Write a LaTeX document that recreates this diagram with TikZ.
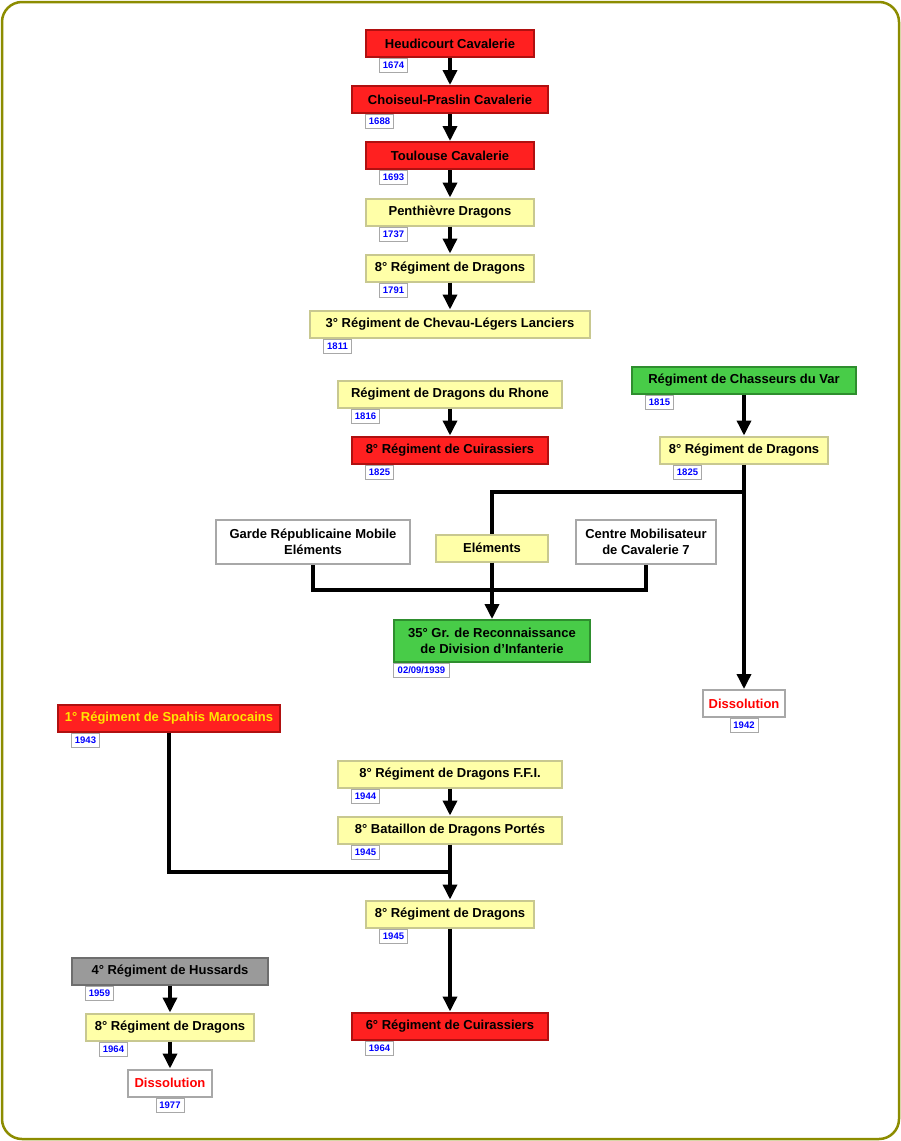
\documentclass[tikz,border=0pt]{standalone}
\usepackage{fontspec}
\setmainfont{Liberation Sans}
\usepackage{xcolor}
\usetikzlibrary{arrows.meta}
\definecolor{redfill}{HTML}{FF2020}
\definecolor{redline}{HTML}{B01010}
\definecolor{yelfill}{HTML}{FFFFA8}
\definecolor{yelline}{HTML}{C8C890}
\definecolor{grnfill}{HTML}{48CC48}
\definecolor{grnline}{HTML}{2E8E2E}
\definecolor{gryfill}{HTML}{9A9A9A}
\definecolor{gryline}{HTML}{6E6E6E}
\definecolor{whtline}{HTML}{A8A8A8}
\definecolor{frame}{HTML}{8C8C00}
\begin{document}
\begin{tikzpicture}[x=1pt,y=-1pt,
  unit/.style={draw,line width=2pt,minimum height=27,inner sep=0pt,align=center,
    font=\fontsize{13}{16}\selectfont\bfseries},
  cav/.style={unit,fill=redfill,draw=redline},
  drag/.style={unit,fill=yelfill,draw=yelline},
  chas/.style={unit,fill=grnfill,draw=grnline},
  huss/.style={unit,fill=gryfill,draw=gryline},
  other/.style={unit,fill=white,draw=whtline},
  year/.style={draw=whtline,fill=white,line width=1pt,minimum width=28,minimum height=14,
    inner sep=0pt,text=blue,font=\fontsize{9.5}{10}\selectfont\bfseries},
  link/.style={line width=3.5pt},
  arr/.style={link,-{Triangle[width=14pt,length=15pt]}}]
\useasboundingbox(0,0)rectangle(901,1141);
\draw[frame,line width=2.5pt,rounded corners=20](2,2)rectangle(899,1139);
\node[cav,minimum width=168](hc)at(450,43.5){Heudicourt Cavalerie};
\node[cav,minimum width=196](cp)at(450,99.5){Choiseul-Praslin Cavalerie};
\node[cav,minimum width=168](tc)at(450,155.5){Toulouse Cavalerie};
\node[drag,minimum width=168](pd)at(450,212){Penthièvre Dragons};
\node[drag,minimum width=168](rd1)at(450,268){8° Régiment de Dragons};
\node[drag,minimum width=280](cl)at(450,324){3° Régiment de Chevau-Légers Lanciers};
\node[drag,minimum width=224](dr)at(450,394){Régiment de Dragons du Rhone};
\node[cav,minimum width=196](rc1)at(450,450){8° Régiment de Cuirassiers};
\node[chas,minimum width=224](cv)at(744,380){Régiment de Chasseurs du Var};
\node[drag,minimum width=168](rd2)at(744,450){8° Régiment de Dragons};
\node[other,minimum width=194,minimum height=44](gm)at(313,542){Garde Républicaine Mobile\\Eléments};
\node[drag,minimum width=112](el)at(492,548){Eléments};
\node[other,minimum width=140,minimum height=44](cm)at(646,542){Centre Mobilisateur\\de Cavalerie 7};
\node[chas,minimum width=196,minimum height=42](gr)at(492,641){35° Gr. de Reconnaissance\\de Division d’Infanterie};
\node[other,minimum width=82,text=red](ds1)at(744,703.5){Dissolution};
\node[cav,minimum width=222,text={rgb,255:red,255;green,230;blue,0}](sm)at(169,718){1° Régiment de Spahis Marocains};
\node[drag,minimum width=224](ffi)at(450,774){8° Régiment de Dragons F.F.I.};
\node[drag,minimum width=224](bdp)at(450,830){8° Bataillon de Dragons Portés};
\node[drag,minimum width=168](rd3)at(450,914){8° Régiment de Dragons};
\node[cav,minimum width=196](rc6)at(450,1026){6° Régiment de Cuirassiers};
\node[huss,minimum width=196](rh)at(170,971){4° Régiment de Hussards};
\node[drag,minimum width=168](rd4)at(170,1027){8° Régiment de Dragons};
\node[other,minimum width=84,text=red](ds2)at(170,1083){Dissolution};
\node[year,anchor=north west]at([xshift=14]hc.south west){1674};
\node[year,anchor=north west]at([xshift=14]cp.south west){1688};
\node[year,anchor=north west]at([xshift=14]tc.south west){1693};
\node[year,anchor=north west]at([xshift=14]pd.south west){1737};
\node[year,anchor=north west]at([xshift=14]rd1.south west){1791};
\node[year,anchor=north west]at([xshift=14]cl.south west){1811};
\node[year,anchor=north west]at([xshift=14]dr.south west){1816};
\node[year,anchor=north west]at([xshift=14]rc1.south west){1825};
\node[year,anchor=north west]at([xshift=14]cv.south west){1815};
\node[year,anchor=north west]at([xshift=14]rd2.south west){1825};
\node[year,anchor=north west,minimum width=56]at(gr.south west){02/09/1939};
\node[year,anchor=north]at(ds1.south){1942};
\node[year,anchor=north west]at([xshift=14]sm.south west){1943};
\node[year,anchor=north west]at([xshift=14]ffi.south west){1944};
\node[year,anchor=north west]at([xshift=14]bdp.south west){1945};
\node[year,anchor=north west]at([xshift=14]rd3.south west){1945};
\node[year,anchor=north west]at([xshift=14]rc6.south west){1964};
\node[year,anchor=north west]at([xshift=14]rh.south west){1959};
\node[year,anchor=north west]at([xshift=14]rd4.south west){1964};
\node[year,anchor=north]at(ds2.south){1977};
\coordinate(j1)at(744,492);
\coordinate(j2)at(492,590);
\coordinate(j3)at(450,872);
\draw[arr](hc)--(cp);
\draw[arr](cp)--(tc);
\draw[arr](tc)--(pd);
\draw[arr](pd)--(rd1);
\draw[arr](rd1)--(cl);
\draw[arr](dr)--(rc1);
\draw[arr](cv)--(rd2);
\draw[arr](rd2)--(ds1);
\draw[link](j1)-|(el.north);
\draw[link](gm.south)|-(j2)-|(cm.south);
\draw[arr](el)--(gr);
\draw[link](sm.south)|-(j3);
\draw[arr](ffi)--(bdp);
\draw[arr](bdp)--(rd3);
\draw[arr](rd3)--(rc6);
\draw[arr](rh)--(rd4);
\draw[arr](rd4)--(ds2);
\end{tikzpicture}
\end{document}
